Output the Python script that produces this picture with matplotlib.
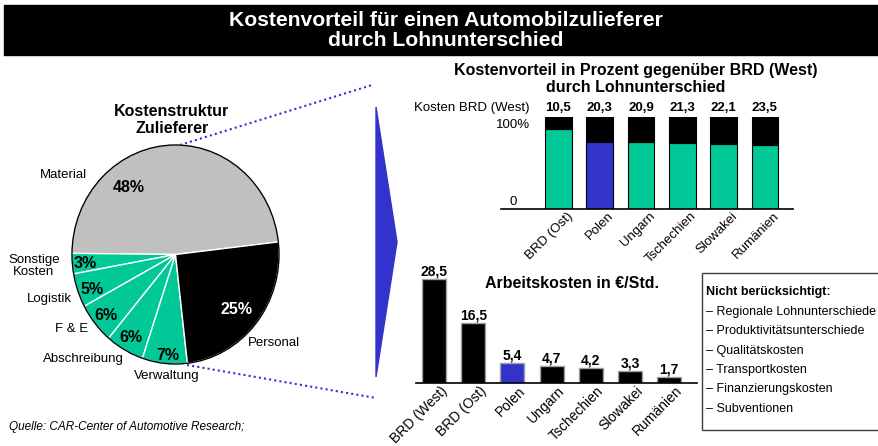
import matplotlib
matplotlib.use("Agg")
import matplotlib.pyplot as plt
from matplotlib.patches import Rectangle, Polygon, Circle
from matplotlib.transforms import ScaledTranslation

plt.rcParams['font.family'] = ['Liberation Sans', 'DejaVu Sans']

W, H = 879, 446

# --- data ---
pie_labels = ["Material", "Sonstige\nKosten", "Logistik", "F & E",
              "Abschreibung", "Verwaltung", "Personal"]
pie_values = [48, 3, 5, 6, 6, 7, 25]

adv_countries = ["BRD (Ost)", "Polen", "Ungarn", "Tschechien", "Slowakei", "Rumänien"]
adv_values = [10.5, 20.3, 20.9, 21.3, 22.1, 23.5]

cost_countries = ["BRD (West)", "BRD (Ost)", "Polen", "Ungarn", "Tschechien",
                  "Slowakei", "Rumänien"]
cost_values = [28.5, 16.5, 5.4, 4.7, 4.2, 3.3, 1.7]

not_considered = ["Regionale Lohnunterschiede", "Produktivitätsunterschiede",
                  "Qualitätskosten", "Transportkosten", "Finanzierungskosten",
                  "Subventionen"]

GREEN = "#00C896"
BLUE = "#3333CC"
GREY = "#C0C0C0"


def de(v):
    return f"{v:.1f}".replace(".", ",")


def px_axes(x0, y0, x1, y1):
    return fig.add_axes([x0 / W, 1 - y1 / H, (x1 - x0) / W, (y1 - y0) / H])


def shift_labels(ax, dx, dy):
    # move tick labels by dx, dy pixels (dy up)
    off = ScaledTranslation(dx / 100, dy / 100, fig.dpi_scale_trans)
    for lab in ax.get_xticklabels():
        lab.set_transform(lab.get_transform() + off)


fig = plt.figure(figsize=(W / 100, H / 100), dpi=100)

# background axes in pixel coordinates
bg = fig.add_axes([0, 0, 1, 1], zorder=0)
bg.set_xlim(0, W)
bg.set_ylim(H, 0)
bg.axis("off")

# title bar
bg.add_patch(Rectangle((4, 5), W - 4, 50, color="black"))
bg.text(446, 20, "Kostenvorteil für einen Automobilzulieferer", color="white",
        fontsize=15.2, fontweight="bold", ha="center", va="center")
bg.text(446, 40, "durch Lohnunterschied", color="white",
        fontsize=15.2, fontweight="bold", ha="center", va="center")

# connectors and arrow
bg.plot([180, 372], [145, 85], color=BLUE, lw=1.5, linestyle=(0, (1, 1.5)))
bg.plot([187, 376], [365, 398], color=BLUE, lw=1.5, linestyle=(0, (1, 1.5)))
bg.add_patch(Polygon([(376, 107), (397, 242), (376, 377)], color=BLUE))

# pie chart
bg.text(172, 120, "Kostenstruktur\nZulieferer", fontsize=11.5, fontweight="bold",
        ha="center", va="center", linespacing=1.1)
ax_pie = px_axes(72, 145, 279, 364)
ax_pie.pie(pie_values, colors=[GREY, GREEN, GREEN, GREEN, GREEN, GREEN, "black"],
           startangle=6.6, counterclock=True,
           wedgeprops=dict(edgecolor="white", linewidth=1))
ax_pie.add_patch(Circle((0, 0), 1, fill=False, ec="black", lw=1, clip_on=False))
ax_pie.set_aspect("auto")
ax_pie.set_xlim(-1, 1)
ax_pie.set_ylim(-1, 1)
ax_pie.axis("off")

name_pos = [(63, 175), (34, 266), (49, 299), (72, 329), (83, 359), (167, 376), (274, 343)]
pct_pos = [(129, 188), (85, 264), (92, 290), (106, 316), (131, 338), (168, 355), (237, 310)]
for lab, v, npos, ppos in zip(pie_labels, pie_values, name_pos, pct_pos):
    ax_pie.text(npos[0], npos[1], lab, fontsize=9.5, ha="center", va="center",
                linespacing=1.1, transform=bg.transData, clip_on=False)
    ax_pie.text(ppos[0], ppos[1], f"{v}%", fontsize=11.5, fontweight="bold",
                ha="center", va="center", transform=bg.transData, clip_on=False,
                color="white" if lab == "Personal" else "black")

# top bar chart: Kostenvorteil in %
bg.text(636, 71, "Kostenvorteil in Prozent gegenüber BRD (West)", fontsize=11.5,
        fontweight="bold", ha="center", va="center")
bg.text(636, 88, "durch Lohnunterschied", fontsize=11.5,
        fontweight="bold", ha="center", va="center")
bg.text(530, 108, "Kosten BRD (West)", fontsize=9.5, ha="right", va="center")
bg.text(530, 125, "100%", fontsize=9.5, ha="right", va="center")
bg.text(517, 202, "0", fontsize=9.5, ha="right", va="center")

ax_top = px_axes(501, 116.5, 793, 209)
ax_top.patch.set_alpha(0)
xs = range(len(adv_countries))
rest = [100 - a for a in adv_values]
top_colors = [BLUE if c == "Polen" else GREEN for c in adv_countries]
ax_top.bar(xs, rest, width=0.64, color=top_colors, edgecolor="black", lw=0.8)
ax_top.bar(xs, adv_values, bottom=rest, width=0.64, color="black",
           edgecolor="black", lw=0.8)
for x, a in zip(xs, adv_values):
    ax_top.text(x, 106.9, de(a), fontsize=9.5, fontweight="bold",
                ha="center", va="center", clip_on=False)
ax_top.set_xlim(-1.39, 5.68)
ax_top.set_ylim(25, 100)
ax_top.set_yticks([])
ax_top.set_xticks(list(xs))
ax_top.set_xticklabels(adv_countries, rotation=45, ha="right",
                       rotation_mode="anchor", fontsize=9.5)
ax_top.tick_params(axis="x", length=0, pad=2)
shift_labels(ax_top, 8, 2)
for s in ["left", "right", "top"]:
    ax_top.spines[s].set_visible(False)
ax_top.spines["bottom"].set_linewidth(1.2)

# bottom bar chart: Arbeitskosten
bg.text(572, 283, "Arbeitskosten in €/Std.", fontsize=11.5, fontweight="bold",
        ha="center", va="center")
ax_bot = px_axes(416, 273.5, 697, 383)
ax_bot.patch.set_alpha(0)
xb = range(len(cost_countries))
bot_colors = [BLUE if c == "Polen" else "black" for c in cost_countries]
ax_bot.bar(xb, cost_values, width=0.61, color=bot_colors, edgecolor="#A0A0A0", lw=1)
for x, v in zip(xb, cost_values):
    ax_bot.annotate(de(v), (x, v), xytext=(0, 5.5), textcoords="offset points",
                    fontsize=10, fontweight="bold", ha="center", va="center",
                    annotation_clip=False)
ax_bot.set_xlim(-0.46, 6.71)
ax_bot.set_ylim(0, 30)
ax_bot.set_yticks([])
ax_bot.set_xticks(list(xb))
ax_bot.set_xticklabels(cost_countries, rotation=45, ha="right",
                       rotation_mode="anchor", fontsize=10)
ax_bot.tick_params(axis="x", length=0, pad=2)
shift_labels(ax_bot, 6, 2)
for s in ["left", "right", "top"]:
    ax_bot.spines[s].set_visible(False)
ax_bot.spines["bottom"].set_linewidth(1.2)

# box: not considered
bg.add_patch(Rectangle((702, 273), 200, 157, fill=True, fc="white",
                       ec="#404040", lw=1, zorder=3))
bg.text(706, 292, "Nicht berücksichtigt:", fontsize=9, fontweight="bold",
        ha="left", va="center", zorder=4)
for i, item in enumerate(not_considered):
    bg.text(706, 312 + i * 19.3, "– " + item, fontsize=9, ha="left",
            va="center", zorder=4, clip_on=True)

# source
bg.text(9, 427, "Quelle: CAR-Center of Automotive Research;", fontsize=8.5,
        style="italic", ha="left", va="center")

fig.savefig("out.png", dpi=100)
